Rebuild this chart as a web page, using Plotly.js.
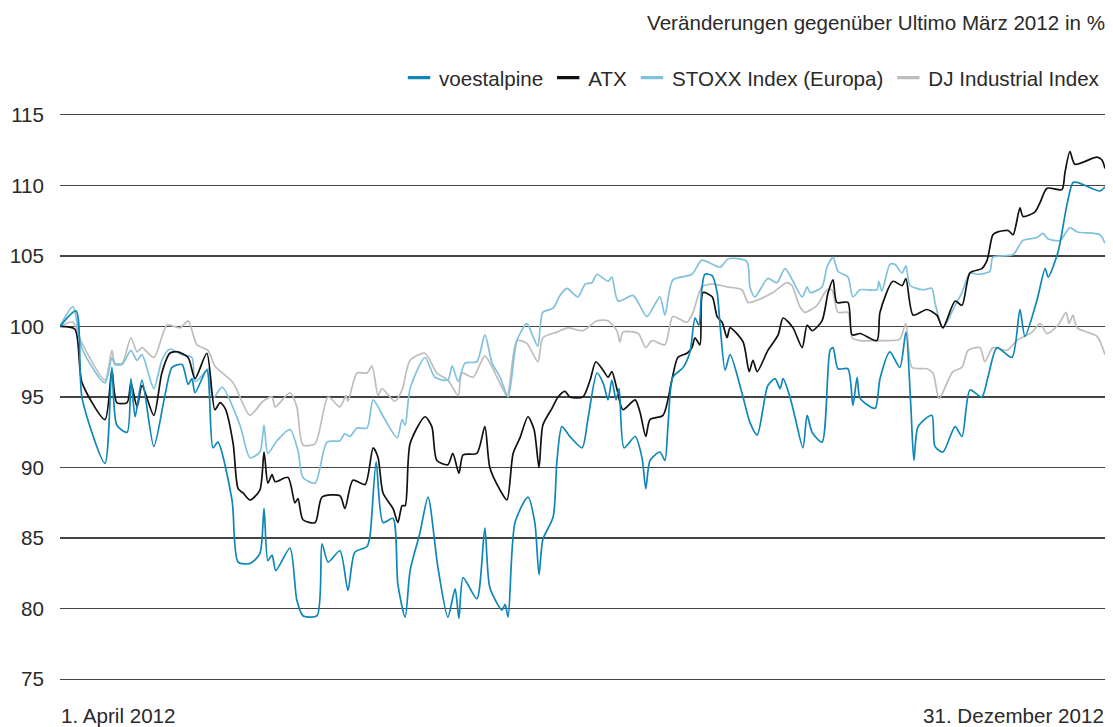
<!DOCTYPE html>
<html>
<head>
<meta charset="utf-8">
<script src="https://cdn.plot.ly/plotly-3.0.1.min.js"></script>
<style>
html,body{margin:0;padding:0;background:#ffffff;}
#chart{width:1113px;height:727px;}
</style>
</head>
<body>
<div id="chart"></div>
<script>
// ---- Data: index values (Ultimo März 2012 = 100), x = days since 1 April 2012 ----
const unitLabel = 'Veränderungen gegenüber Ultimo März 2012 in %';
const startLabel = '1. April 2012';
const endLabel = '31. Dezember 2012';
const periodDays = 274;
const seriesNames = ['voestalpine', 'ATX', 'STOXX Index (Europa)', 'DJ Industrial Index'];
const yTickValues = [75, 80, 85, 90, 95, 100, 105, 110, 115];

const voestDays = [0,4.2,5.8,11.8,13.6,14.9,17.6,18.6,19.7,21.5,24.6,27.5,29.4,32.0,33.6,34.6,35.4,38.5,40.1,41.4,45.1,46.7,49.8,52.4,53.5,54.5,55.6,56.6,60.3,62.1,63.7,67.4,68.7,70.3,73.4,75.5,77.3,80.5,81.3,82.9,84.7,87.3,88.6,90.5,91.8,94.4,96.5,99.1,101.7,103.6,104.6,105.7,109.3,111.4,112.7,115.9,116.7,117.5,119.3,122.7,124.5,125.6,126.6,129.3,130.3,131.6,133.7,136.9,138.4,140.8,142.4,143.7,144.7,145.8,146.6,147.9,150.8,152.6,153.6,154.7,157.3,158.6,159.4,160.7,163.4,165.2,166.5,167.5,168.3,169.1,171.0,172.3,173.1,174.4,175.7,178.8,180.9,182.8,185.6,187.5,188.8,189.6,191.4,192.7,194.8,195.9,197.2,199.8,201.9,202.7,204.0,206.6,207.9,209.0,209.8,213.7,215.0,217.6,220.2,221.8,223.1,223.9,225.0,228.6,229.4,231.5,234.7,236.5,238.6,241.7,243.3,245.7,249.6,251.7,253.0,256.2,258.3,259.1,261.7,264.0,265.6,266.9,272.7,274.0];
const voestValues = [100,101.1,94.9,90.3,97.1,93.0,92.5,96.3,93.6,96.2,91.5,95.1,97.1,97.3,95.9,96.3,95.3,96.9,91.4,91.8,87.7,83.3,83.2,83.9,87.1,83.4,83.8,82.7,84.3,80.6,79.5,79.5,84.6,83.3,84.1,81.3,84.0,84.4,85.2,90.4,86.1,86.4,81.7,79.4,82.7,85.4,87.9,82.9,79.4,81.4,79.3,82.2,80.7,85.7,81.5,79.9,80.3,79.4,86.1,87.9,86.1,82.4,84.9,86.5,90.5,92.9,92.2,91.4,93.4,96.7,96.0,94.8,96.2,94.8,95.6,91.4,92.2,90.7,88.5,90.5,91.1,90.5,92.9,96.4,97.1,98.2,100.6,100.1,102.7,103.7,103.6,102.4,100.0,96.9,98.0,95.3,93.2,92.3,95.8,96.3,95.6,96.3,95.0,93.6,91.4,93.7,92.5,91.8,98.3,98.5,97.0,97.0,94.4,96.4,94.9,94.2,96.3,98.2,97.1,99.6,94.3,90.5,92.9,93.7,91.5,91.1,92.9,92.2,95.5,95.0,96.4,98.5,97.8,101.2,99.3,101.9,104.1,103.5,105.3,108.6,110.2,110.2,109.6,109.9];

const atxDays = [0,3.9,5.8,11.8,13.6,14.9,17.6,18.6,20.2,21.5,24.6,26.7,28.8,30.9,33.6,35.4,38.5,40.6,42.0,43.3,45.4,46.7,48.0,49.8,52.4,53.5,54.5,55.6,56.4,59.8,61.6,62.4,63.7,66.9,68.7,73.4,74.7,76.8,80.0,82.1,83.4,84.7,87.3,88.6,89.7,90.5,91.8,95.7,97.5,98.8,101.7,103.0,104.6,105.7,109.3,111.4,112.7,115.4,117.2,118.8,120.6,122.7,124.3,125.6,126.6,129.0,130.6,132.4,133.7,137.1,139.0,140.5,142.4,143.7,144.7,146.0,147.6,150.8,152.1,153.6,154.7,158.1,160.5,162.0,164.4,165.7,166.5,167.8,168.6,171.0,172.3,173.6,174.9,175.7,179.1,180.7,181.7,182.8,185.6,188.3,189.6,192.2,194.6,195.9,197.2,199.8,201.4,202.7,203.7,206.6,207.7,209.8,214.2,215.0,218.4,220.8,221.8,223.7,227.3,229.9,231.5,234.7,236.5,238.6,241.7,243.1,244.6,245.9,248.6,249.9,251.7,252.5,255.6,257.0,258.8,262.7,263.5,264.8,266.1,271.9,273.2,274.0];
const atxValues = [100,99.8,96.0,93.4,96.9,94.6,94.6,96.0,94.3,95.8,93.7,96.7,98.1,98.2,97.8,96.3,98.1,94.1,94.6,94.2,91.7,88.5,88.2,87.7,88.4,91.1,88.9,89.5,89.0,89.3,87.5,87.8,86.3,86.1,87.9,88.0,87.1,89.1,88.8,91.4,90.7,88.2,87.1,86.1,87.3,87.3,91.7,93.6,92.9,90.5,90.2,91.0,89.6,90.9,91.0,92.9,90.0,88.4,87.7,91.0,92.1,93.6,92.7,90.0,93.0,94.2,95.0,95.4,95.0,95.0,96.2,97.5,96.9,96.4,96.8,95.6,94.1,94.8,93.9,92.2,93.4,93.7,96.3,97.8,98.1,98.5,99.2,98.7,102.4,102.1,100.7,100.3,99.2,99.9,98.9,96.8,97.6,96.8,98.3,99.4,100.6,99.9,98.5,100.1,99.7,100.4,102.4,103.3,101.7,101.7,99.4,99.5,99.0,101.0,103.2,102.9,103.4,100.8,101.2,100.8,99.9,101.8,101.5,103.8,104.1,104.7,106.5,106.7,106.8,106.5,108.4,107.8,108.1,108.8,109.8,109.7,110.9,112.4,111.5,112.0,111.8,111.2];

const stoxxDays = [0,3.4,5.8,11.8,13.6,14.4,16.3,18.6,20.2,21.5,24.6,26.7,28.8,32.0,34.6,35.4,37.2,38.8,40.1,42.5,47.2,49.8,52.4,53.5,54.5,56.9,60.3,62.4,63.7,66.9,70.0,73.4,74.7,76.0,77.9,80.5,82.1,85.2,88.4,89.7,90.5,91.8,95.7,98.3,101.7,102.8,104.4,106.2,109.3,111.4,113.3,115.4,117.5,119.8,122.4,124.0,125.3,126.6,129.3,131.1,132.9,135.8,137.7,139.5,140.8,143.7,144.7,146.3,150.2,151.6,153.9,157.3,158.6,160.7,165.7,168.3,173.1,175.2,180.1,180.9,182.2,185.6,188.0,190.1,194.6,195.9,196.7,199.8,201.1,202.7,204.0,206.6,207.9,209.8,214.2,214.7,215.5,217.6,218.9,220.8,221.8,222.9,226.3,228.6,229.4,231.5,234.7,236.5,238.6,240.4,243.8,244.6,249.9,252.5,256.2,257.7,259.1,262.2,264.8,266.7,272.7,274.0];
const stoxxValues = [100,101.4,98.4,96.0,97.8,97.3,97.3,98.3,97.6,98.0,95.6,97.6,98.4,98.0,97.8,96.1,96.5,97.0,94.9,95.7,93.0,90.7,91.1,93.0,91.0,91.9,92.7,91.2,89.3,88.9,91.8,91.9,92.4,92.2,92.8,92.8,94.8,93.4,92.1,93.4,93.0,95.6,97.8,96.4,96.2,97.2,96.1,97.4,97.5,99.4,97.4,96.4,95.0,99.0,100.2,99.3,98.6,101.0,101.3,102.2,102.7,102.1,103.0,103.1,103.7,103.2,103.5,101.8,102.2,101.7,100.7,102.1,100.8,103.3,103.7,104.7,104.2,104.8,104.6,102.8,102.1,103.4,103.1,104.1,102.1,102.8,102.4,102.8,104.2,104.9,103.9,103.5,102.1,102.6,102.6,103.2,102.5,104.4,104.4,103.8,104.3,102.9,102.6,102.7,101.7,99.9,101.5,102.4,103.8,103.7,103.9,104.9,105.1,106.1,106.3,106.6,106.2,106.1,107.0,106.7,106.5,105.9];

const djDays = [0,3.4,5.8,11.8,13.6,14.4,16.3,18.6,20.2,21.5,24.6,28.1,31.5,33.6,35.9,38.8,40.6,45.4,49.8,53.2,55.6,56.4,60.3,62.1,63.7,66.9,70.3,73.4,75.0,75.5,77.9,80.5,81.8,83.4,84.4,87.8,89.7,91.8,95.7,98.8,101.7,104.4,105.4,108.3,111.4,114.6,117.2,119.8,122.4,125.3,126.6,130.3,133.2,137.1,140.8,143.7,146.0,146.8,147.6,151.6,153.6,155.2,158.6,160.7,164.4,166.0,168.3,171.2,174.9,178.8,180.4,182.2,186.9,190.6,191.9,194.0,195.3,198.5,201.1,202.4,204.0,206.6,207.7,209.8,214.2,218.1,220.2,221.8,223.4,227.3,228.9,230.5,234.1,236.5,238.1,241.2,242.5,244.6,248.3,250.9,254.9,257.0,258.8,261.7,263.8,264.6,265.6,266.7,271.9,274.0];
const djValues = [100,100.3,98.8,96.2,98.3,97.4,97.4,99.2,98.2,98.5,97.8,100.1,99.9,100.4,98.7,98.3,97.2,96.0,93.7,94.7,95.0,94.3,95.3,94.3,91.6,91.7,95.0,94.3,95.1,94.7,96.7,96.7,97.2,95.1,95.6,94.7,95.5,97.6,98.1,96.7,96.2,95.1,96.7,96.4,97.9,96.4,95.1,99.0,98.8,97.5,99.2,99.6,99.9,99.7,100.4,100.4,99.7,98.9,99.6,99.5,98.5,99.0,98.7,100.7,100.3,101.0,102.8,103.0,102.8,102.6,101.7,101.8,102.4,103.1,102.9,101.4,101.0,101.5,102.6,102.6,101.0,101.0,99.2,99.0,99.0,99.0,99.1,100.2,97.1,97.0,96.7,94.9,96.8,97.1,98.3,98.5,97.5,98.5,98.3,99.0,99.6,100.2,99.5,100.1,101.0,100.2,100.8,99.9,99.3,98.0];

// ---- Styles ----
const style = {
  voest: '#0e86b7',
  atx: '#111111',
  stoxx: '#80c1dd',
  dj: '#bdbdbd',
  text: '#2a2a2a',
  grid: '#444444',
  font: 'Liberation Sans, Arial, Helvetica, sans-serif',
  size: 20.6
};

function lineTrace(name, xs, ys, color) {
  return {
    type: 'scatter', mode: 'lines', name: name, x: xs, y: ys,
    line: {color: color, width: 1.7, shape: 'spline', smoothing: 0.7},
    showlegend: false, hoverinfo: 'skip'
  };
}
// legend-only entries (no data) drawn as short thick bars like the original key
function legendEntry(name, color) {
  return {
    type: 'scatter', mode: 'markers', name: name, x: [null], y: [null],
    marker: {symbol: 'line-ew-open', size: 16, color: color, line: {color: color, width: 3.2}},
    showlegend: true, hoverinfo: 'skip'
  };
}

const traces = [
  lineTrace(seriesNames[3], djDays, djValues, style.dj),
  lineTrace(seriesNames[2], stoxxDays, stoxxValues, style.stoxx),
  lineTrace(seriesNames[1], atxDays, atxValues, style.atx),
  lineTrace(seriesNames[0], voestDays, voestValues, style.voest),
  legendEntry(seriesNames[0], style.voest),
  legendEntry(seriesNames[1], style.atx),
  legendEntry(seriesNames[2], style.stoxx),
  legendEntry(seriesNames[3], style.dj)
];

const layout = {
  width: 1113, height: 727,
  margin: {l: 60, r: 8, t: 112, b: 45, pad: 0},
  paper_bgcolor: '#ffffff', plot_bgcolor: '#ffffff',
  font: {family: style.font, size: style.size, color: style.text},
  title: {
    text: unitLabel, x: 1, xref: 'paper', xanchor: 'right',
    y: 0.968, yref: 'container', yanchor: 'middle',
    font: {family: style.font, size: style.size, color: style.text}
  },
  showlegend: true,
  legend: {
    orientation: 'h', traceorder: 'normal',
    x: 1, xanchor: 'right', y: 1.06, yanchor: 'middle',
    font: {family: style.font, size: style.size, color: style.text},
    itemwidth: 30, itemclick: false, itemdoubleclick: false,
    bgcolor: 'rgba(0,0,0,0)'
  },
  xaxis: {
    range: [0, periodDays], showgrid: false, zeroline: false,
    showline: false, showticklabels: false, ticks: '', fixedrange: true
  },
  yaxis: {
    range: [74.8, 115.2], tickmode: 'array', tickvals: yTickValues,
    ticktext: yTickValues.map(String),
    showgrid: true, gridcolor: style.grid, gridwidth: 1.3,
    zeroline: false, showline: false, ticks: '',
    ticklabelstandoff: 15,
    tickfont: {family: style.font, size: style.size, color: style.text},
    fixedrange: true
  },
  annotations: [
    {text: startLabel, xref: 'paper', yref: 'paper', x: 0, y: -0.058,
     xanchor: 'left', yanchor: 'middle', borderpad: 0, showarrow: false,
     font: {family: style.font, size: style.size, color: style.text}},
    {text: endLabel, xref: 'paper', yref: 'paper', x: 1, y: -0.058,
     xanchor: 'right', yanchor: 'middle', borderpad: 0, showarrow: false,
     font: {family: style.font, size: style.size, color: style.text}}
  ]
};

Plotly.newPlot('chart', traces, layout, {displayModeBar: false, staticPlot: true});
</script>
</body>
</html>
